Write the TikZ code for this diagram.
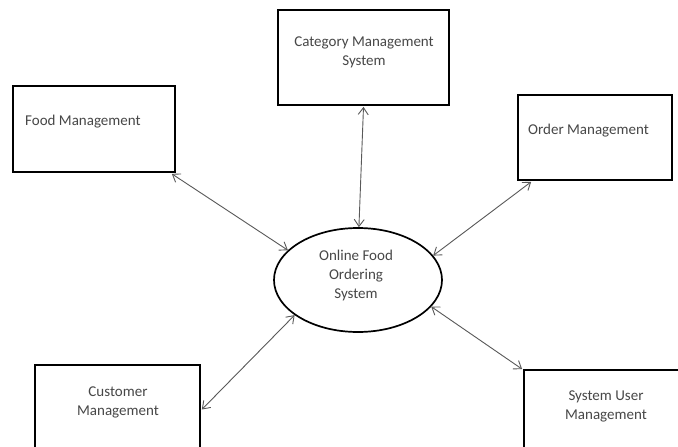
\documentclass[tikz,border=0pt]{standalone}
\usepackage{fontspec}
\setmainfont{Carlito}
\usetikzlibrary{shapes.geometric,arrows.meta}
\begin{document}
\begin{tikzpicture}[x=1pt,y=-1pt,
  boxnode/.style={draw=black,line width=1.7pt,rectangle,inner sep=0pt},
  txt/.style={font=\fontsize{15}{19}\selectfont,text=black!72,align=center,inner sep=0pt},
  link/.style={draw=black!65,line width=0.9pt,{Straight Barb[length=7pt,width=10pt]}-{Straight Barb[length=7pt,width=10pt]}}]
\useasboundingbox (0,0) rectangle (678,447);
\clip (0,0) rectangle (678,447);
\fill[white] (0,0) rectangle (678,447);
% boxes
\node[boxnode,minimum width=171pt,minimum height=95pt] (cat) at (363.5,57.5) {};
\node[boxnode,minimum width=162pt,minimum height=86pt] (food) at (94,129) {};
\node[boxnode,minimum width=154pt,minimum height=85pt] (order) at (595,137.5) {};
\node[boxnode,minimum width=165pt,minimum height=105pt] (cust) at (117.5,417.5) {};
\node[boxnode,minimum width=166pt,minimum height=100pt] (sys) at (607,420) {};
\node[draw=black,line width=1.7pt,ellipse,minimum width=168pt,minimum height=104pt,inner sep=0pt] (ell) at (358,280) {};
% texts
\node[txt] (catT) at (364,52) {Category Management\\System};
\node[txt,anchor=west] (foodT) at (25,122) {Food Management};
\node[txt,anchor=west] (orderT) at (528,131) {Order Management};
\node[txt] (ellT) at (356,275) {Online Food\\Ordering\\System};
\node[txt] (custT) at (118,402) {Customer\\Management};
\node[txt] (sysT) at (606,406) {System User\\Management};
% connectors
\draw[link] ([yshift=-1pt]cat.south) -- (ell.89);
\draw[link] ([xshift=-4pt,yshift=-1pt]food.south east) -- (ell.157);
\draw[link] ([xshift=14pt,yshift=-1pt]order.south west) -- (ell.18);
\draw[link] ([xshift=1pt,yshift=8pt]cust.east) -- (ell.209);
\draw[link] ([xshift=-1pt]sys.north west) -- (ell.-20);
\end{tikzpicture}
\end{document}
